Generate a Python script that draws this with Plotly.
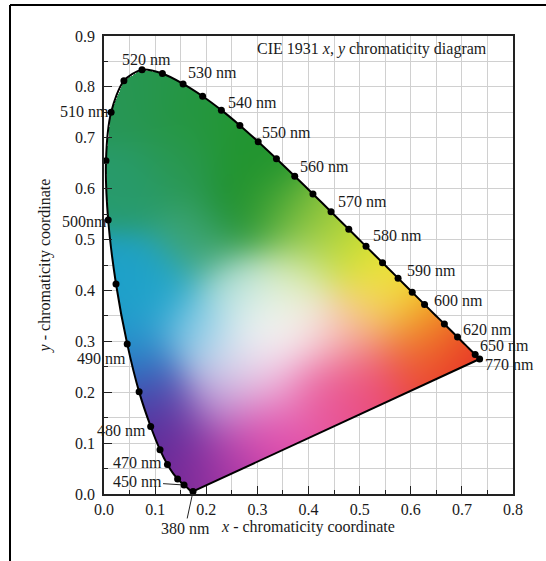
import numpy as np
import zlib, struct, base64
import plotly.graph_objects as go

# ---------------- data ----------------
locus_nm = [380, 400, 420, 430, 440, 445, 450, 455, 460, 465, 470, 475, 480, 485, 490, 495,
            500, 505, 510, 515, 520, 525, 530, 535, 540, 545, 550, 555, 560, 565, 570, 575,
            580, 585, 590, 595, 600, 605, 610, 615, 620, 625, 630, 635, 640, 645, 650, 660,
            670, 680, 690, 770]
locus_x = [0.1741, 0.1733, 0.1714, 0.1689, 0.1644, 0.1611, 0.1566, 0.1510, 0.1440, 0.1355,
           0.1241, 0.1096, 0.0913, 0.0687, 0.0454, 0.0235, 0.0082, 0.0039, 0.0139, 0.0389,
           0.0743, 0.1142, 0.1547, 0.1929, 0.2296, 0.2658, 0.3016, 0.3373, 0.3731, 0.4087,
           0.4441, 0.4788, 0.5125, 0.5448, 0.5752, 0.6029, 0.6270, 0.6482, 0.6658, 0.6801,
           0.6915, 0.7006, 0.7079, 0.7140, 0.7190, 0.7230, 0.7260, 0.7300, 0.7320, 0.7334,
           0.7344, 0.7347]
locus_y = [0.0050, 0.0048, 0.0051, 0.0069, 0.0109, 0.0138, 0.0177, 0.0227, 0.0297, 0.0399,
           0.0578, 0.0868, 0.1327, 0.2007, 0.2950, 0.4127, 0.5384, 0.6548, 0.7502, 0.8120,
           0.8338, 0.8262, 0.8059, 0.7816, 0.7543, 0.7243, 0.6923, 0.6589, 0.6245, 0.5896,
           0.5547, 0.5202, 0.4866, 0.4544, 0.4242, 0.3965, 0.3725, 0.3514, 0.3340, 0.3197,
           0.3083, 0.2993, 0.2920, 0.2859, 0.2809, 0.2770, 0.2740, 0.2700, 0.2680, 0.2666,
           0.2656, 0.2653]

dot_nm = [380, 450, 460, 470, 475, 480, 485, 490, 495, 500, 505, 510, 515, 520, 525, 530,
          535, 540, 545, 550, 555, 560, 565, 570, 575, 580, 585, 590, 595, 600, 610, 620,
          650, 770]

label_nm = [380, 450, 470, 480, 490, 500, 510, 520, 530, 540, 550, 560, 570, 580, 590,
            600, 620, 650, 770]
label_text = ["380 nm", "450 nm", "470 nm", "480 nm", "490 nm", "500nm", "510 nm", "520 nm",
              "530 nm", "540 nm", "550 nm", "560 nm", "570 nm", "580 nm", "590 nm", "600 nm",
              "620 nm", "650 nm", "770 nm"]

x_ticks = [0.0, 0.1, 0.2, 0.3, 0.4, 0.5, 0.6, 0.7, 0.8]
y_ticks = [0.0, 0.1, 0.2, 0.3, 0.4, 0.5, 0.6, 0.7, 0.8, 0.9]

# ---------------- styles / layout helpers ----------------
FONT = "Liberation Serif"
TXT = "#1a1a1a"
FS = 16
X_RANGE = [0.0, 0.8]
Y_RANGE = [0.0, 0.9]
W, H = 546, 561
M_L, M_R, M_T, M_B = 104, 33, 36, 67

# label offsets in pixels (dx right, dy down) relative to the dot; arrow flag for leader lines
label_offsets = {
    380: (-8, 37, True), 450: (-47, -3, True), 470: (-30, -2, False), 480: (-29, 4, False),
    490: (-26, 15, False), 500: (-24, 1, False), 510: (-27, -1, False), 520: (5, -10, False),
    530: (29, -11, False), 540: (31, -8, False), 550: (28, -9, False), 560: (30, -10, False),
    570: (31, -10, False), 580: (31, -11, False), 590: (33, -8, False), 600: (34, -4, False),
    620: (30, -8, False), 650: (29, -9, False), 770: (30, 6, False),
}

# colour anchors for the stylised chromaticity fill (x, y, rgb)
anchors = [
    (0.03, 0.78, (40, 150, 88)), (0.10, 0.80, (38, 150, 75)), (0.18, 0.76, (36, 151, 62)),
    (0.26, 0.70, (35, 150, 50)), (0.31, 0.64, (32, 148, 45)), (0.27, 0.55, (25, 140, 45)),
    (0.15, 0.65, (42, 152, 82)), (0.05, 0.60, (40, 155, 108)), (0.18, 0.50, (62, 165, 118)),
    (0.35, 0.55, (95, 178, 60)), (0.42, 0.53, (150, 200, 60)), (0.48, 0.48, (200, 222, 50)),
    (0.55, 0.43, (238, 232, 40)), (0.62, 0.36, (245, 215, 25)), (0.645, 0.33, (242, 150, 35)),
    (0.68, 0.30, (235, 70, 40)), (0.71, 0.28, (230, 40, 40)), (0.60, 0.28, (235, 65, 65)),
    (0.50, 0.24, (235, 75, 120)), (0.42, 0.20, (232, 85, 155)), (0.32, 0.13, (225, 75, 170)),
    (0.24, 0.07, (185, 60, 170)), (0.17, 0.05, (120, 42, 152)), (0.13, 0.11, (98, 40, 152)),
    (0.10, 0.16, (88, 50, 158)), (0.08, 0.22, (50, 100, 190)), (0.05, 0.30, (35, 150, 205)),
    (0.04, 0.42, (30, 160, 200)), (0.10, 0.40, (30, 165, 205)), (0.18, 0.32, (125, 200, 230)),
    (0.24, 0.26, (212, 225, 240)), (0.31, 0.30, (248, 248, 248)), (0.34, 0.36, (245, 248, 240)),
    (0.27, 0.40, (180, 225, 220)), (0.38, 0.43, (215, 235, 170)), (0.42, 0.31, (248, 225, 230)),
    (0.32, 0.22, (240, 190, 225)), (0.22, 0.18, (190, 150, 215)), (0.50, 0.33, (248, 190, 160)),
    (0.55, 0.38, (245, 222, 100)),
]


def make_fill_png(px_w, px_h):
    # row 0 is the bottom row (image trace with positive dy on a non-reversed axis)
    xs = (np.arange(px_w) + 0.5) / px_w * (X_RANGE[1] - X_RANGE[0]) + X_RANGE[0]
    ys = (np.arange(px_h) + 0.5) / px_h * (Y_RANGE[1] - Y_RANGE[0]) + Y_RANGE[0]
    gx, gy = np.meshgrid(xs, ys)
    px = gx.ravel()
    py = gy.ravel()
    vx = np.array(locus_x)
    vy = np.array(locus_y)
    inside = np.zeros(px.shape, dtype=bool)
    n = len(vx)
    j = n - 1
    for i in range(n):
        xi, yi, xj, yj = vx[i], vy[i], vx[j], vy[j]
        cond = ((yi > py) != (yj > py))
        xint = (xj - xi) * (py - yi) / (yj - yi + 1e-12) + xi
        inside ^= cond & (px < xint)
        j = i
    ax = np.array([a[0] for a in anchors])
    ay = np.array([a[1] for a in anchors])
    ac = np.array([a[2] for a in anchors], dtype=float)
    sig = 0.055
    d2 = (px[:, None] - ax[None, :]) ** 2 + (py[:, None] - ay[None, :]) ** 2
    w = np.exp(-d2 / (2 * sig * sig)) + 1e-12
    w /= w.sum(axis=1, keepdims=True)
    rgb = w @ ac
    rgba = np.zeros((px.size, 4), dtype=np.uint8)
    rgba[:, :3] = np.clip(rgb, 0, 255).astype(np.uint8)
    rgba[:, 3] = np.where(inside, 255, 0)
    img = rgba.reshape(px_h, px_w, 4)
    raw = b"".join(b"\x00" + img[r].tobytes() for r in range(px_h))

    def chunk(tag, data):
        c = struct.pack(">I", len(data)) + tag + data
        return c + struct.pack(">I", zlib.crc32(tag + data) & 0xffffffff)

    png = b"\x89PNG\r\n\x1a\n" + chunk(b"IHDR", struct.pack(">IIBBBBB", px_w, px_h, 8, 6, 0, 0, 0)) \
        + chunk(b"IDAT", zlib.compress(raw, 9)) + chunk(b"IEND", b"")
    return "data:image/png;base64," + base64.b64encode(png).decode()


plot_w = W - M_L - M_R
plot_h = H - M_T - M_B
fill_src = make_fill_png(plot_w, plot_h)
pdx = (X_RANGE[1] - X_RANGE[0]) / plot_w
pdy = (Y_RANGE[1] - Y_RANGE[0]) / plot_h

lookup = {nm: (x, y) for nm, x, y in zip(locus_nm, locus_x, locus_y)}

fig = go.Figure()
fig.add_trace(go.Image(source=fill_src, x0=X_RANGE[0] + pdx / 2, y0=Y_RANGE[0] + pdy / 2,
                       dx=pdx, dy=pdy, hoverinfo="skip"))
# spectral locus
fig.add_trace(go.Scatter(x=locus_x, y=locus_y, mode="lines",
                         line=dict(color="black", width=2, shape="spline", smoothing=0.8),
                         hoverinfo="skip", showlegend=False))
# line of purples
fig.add_trace(go.Scatter(x=[locus_x[-1], locus_x[0]], y=[locus_y[-1], locus_y[0]], mode="lines",
                         line=dict(color="black", width=2), hoverinfo="skip", showlegend=False))
# wavelength dots
fig.add_trace(go.Scatter(x=[lookup[n][0] for n in dot_nm], y=[lookup[n][1] for n in dot_nm],
                         mode="markers", marker=dict(color="black", size=7),
                         text=[f"{n} nm" for n in dot_nm], hoverinfo="text", showlegend=False))

annotations = []
for nm, txt in zip(label_nm, label_text):
    dx, dy, arrow = label_offsets[nm]
    x, y = lookup[nm]
    if arrow:
        annotations.append(dict(x=x, y=y, xref="x", yref="y", text=txt, showarrow=True,
                                ax=dx, ay=dy, arrowhead=0, arrowwidth=1, arrowcolor="#222",
                                standoff=3, font=dict(family=FONT, size=FS, color=TXT)))
    else:
        annotations.append(dict(x=x, y=y, xref="x", yref="y", text=txt, showarrow=False,
                                xshift=dx, yshift=-dy, xanchor="center", yanchor="middle",
                                font=dict(family=FONT, size=FS, color=TXT)))
annotations.append(dict(x=0.524, y=0.874, xref="x", yref="y",
                        text="CIE 1931 <i>x</i>, <i>y</i> chromaticity diagram",
                        showarrow=False, xanchor="center", yanchor="middle",
                        font=dict(family=FONT, size=FS, color=TXT)))

# outer frame (left & top edges visible)
fx = (10 - M_L) / plot_w
fy = (H - M_B - 5) / plot_h
shapes = [
    dict(type="line", xref="paper", yref="paper", x0=fx, x1=fx, y0=-0.3, y1=fy,
         line=dict(color="black", width=2)),
    dict(type="line", xref="paper", yref="paper", x0=fx, x1=1.2, y0=fy, y1=fy,
         line=dict(color="black", width=2)),
]

axis_common = dict(showline=True, linecolor="#222", linewidth=1.5, mirror=True,
                   ticks="inside", ticklen=8, tickwidth=1, tickcolor="#222",
                   showgrid=True, gridcolor="#d0d0d0", gridwidth=1, zeroline=False,
                   tickformat=".1f", tickfont=dict(family=FONT, size=FS, color=TXT),
                   minor=dict(dtick=0.05, ticks="inside", ticklen=4, tickcolor="#222",
                              showgrid=True, gridcolor="#d0d0d0", gridwidth=1))

fig.update_layout(
    width=W, height=H,
    margin=dict(l=M_L, r=M_R, t=M_T, b=M_B),
    paper_bgcolor="white", plot_bgcolor="white",
    xaxis=dict(range=X_RANGE, tickvals=x_ticks, **axis_common, ticklabelstandoff=0,
               title=dict(text="<i>x</i> - chromaticity coordinate", standoff=4,
                          font=dict(family=FONT, size=FS, color=TXT))),
    yaxis=dict(range=Y_RANGE, tickvals=y_ticks, **axis_common, ticklabelstandoff=4,
               scaleanchor=False, autorange=False,
               title=dict(text="<i>y</i> - chromaticity coordinate", standoff=20,
                          font=dict(family=FONT, size=FS, color=TXT))),
    annotations=annotations,
    shapes=shapes,
    showlegend=False,
)

fig.write_html("out.html", config={"displayModeBar": False},
               post_script="document.body.style.margin='0';")
